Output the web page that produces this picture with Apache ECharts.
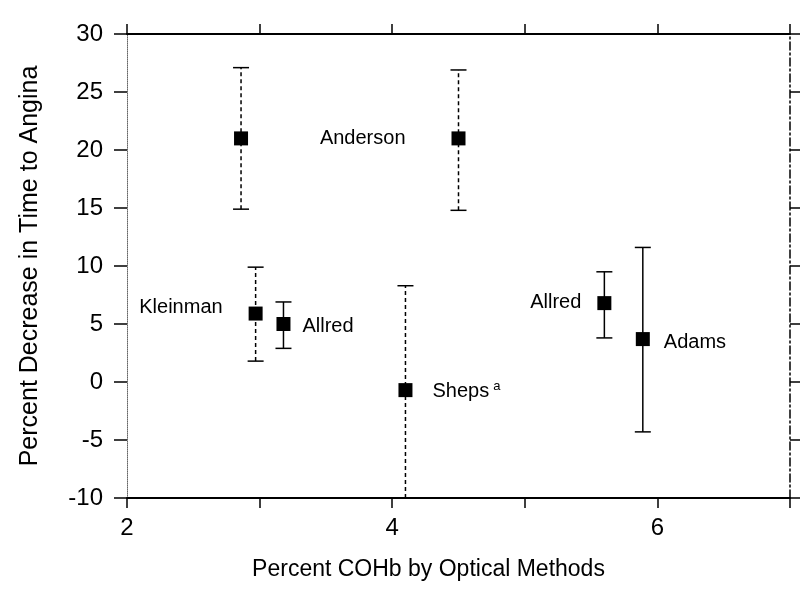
<!DOCTYPE html>
<html>
<head>
<meta charset="utf-8">
<script src="https://cdn.jsdelivr.net/npm/echarts@6/dist/echarts.min.js"></script>
<style>
  html, body { margin: 0; padding: 0; background: #fff; }
  #chart { width: 804px; height: 594px; }
</style>
</head>
<body>
<div id="chart"></div>
<script>
// ---- data ----
var studies   = ['', 'Anderson', 'Kleinman', 'Allred', 'Sheps', 'Allred', 'Adams'];
var cohb      = [2.86, 4.50, 2.97, 3.18, 4.10, 5.60, 5.89];
var decrease  = [21.0, 21.0, 5.9, 5.0, -0.7, 6.8, 3.7];
var lowerCI   = [14.9, 14.8, 1.8, 2.9, -10.0, 3.8, -4.3];
var upperCI   = [27.1, 26.9, 9.9, 6.9, 8.3, 9.5, 11.6];
var notes     = ['', '', '', '', 'a', '', ''];
var xTickLabels = [2, 4, 6];
var yTickLabels = [-10, -5, 0, 5, 10, 15, 20, 25, 30];

// ---- styles (kept apart from the data) ----
var labelSide = ['left', 'left', 'left', 'right', 'right', 'left', 'right'];
var labelDist = [46, 46, 26, 12, 20, 16, 14];
var labelDy   = [0, 0, -6, 2, 1, -1, 3];
var barDashed = [true, true, true, false, true, false, false];

var FONT = '"Liberation Sans", Arial, Helvetica, sans-serif';

var scatterData = cohb.map(function (x, i) {
  var txt = studies[i];
  var fmt = notes[i] ? '{n|' + txt + '}{s|' + notes[i] + '}' : '{n|' + txt + '}';
  return {
    value: [x, decrease[i]],
    label: {
      show: !!txt,
      position: labelSide[i],
      distance: labelDist[i],
      offset: [0, labelDy[i]],
      formatter: fmt,
      color: '#000',
      opacity: 1,
      rich: {
        n: { fontSize: 20, fontFamily: FONT, color: '#000' },
        s: { fontSize: 13, fontFamily: FONT, color: '#000', padding: [0, 0, 10, 4] }
      }
    }
  };
});

var errData = cohb.map(function (x, i) { return [x, lowerCI[i], upperCI[i], i]; });

var chart = echarts.init(document.getElementById('chart'), null, { renderer: 'canvas' });
chart.setOption({
  backgroundColor: '#fff',
  animation: false,
  grid: { left: 127, right: 14, top: 34, bottom: 96, containLabel: false },
  xAxis: [{
    type: 'value', min: 2, max: 7, interval: 1, position: 'bottom',
    name: 'Percent COHb by Optical Methods', nameLocation: 'middle', nameGap: 60,
    nameTextStyle: { fontSize: 23, fontFamily: FONT, color: '#000', padding: [0, 60, 0, 0] },
    axisLine: { show: true, onZero: false, lineStyle: { color: '#000', width: 2 } },
    axisTick: { show: true, inside: false, length: 10, lineStyle: { color: '#000', width: 1.5 } },
    axisLabel: {
      margin: 18, fontSize: 24, fontFamily: FONT, color: '#000',
      formatter: function (v) { return xTickLabels.indexOf(v) >= 0 ? String(v) : ''; }
    },
    splitLine: { show: false }
  }, {
    type: 'value', min: 2, max: 7, interval: 1, position: 'top',
    axisLine: { show: true, onZero: false, lineStyle: { color: '#000', width: 2 } },
    axisTick: { show: true, inside: false, length: 10, lineStyle: { color: '#000', width: 1.5 } },
    axisLabel: { show: false },
    splitLine: { show: false }
  }],
  yAxis: [{
    type: 'value', min: -10, max: 30, interval: 5, position: 'left',
    name: 'Percent Decrease in Time to Angina', nameLocation: 'middle', nameGap: 84, nameRotate: 90,
    nameTextStyle: { fontSize: 25, fontFamily: FONT, color: '#000' },
    axisLine: { show: true, onZero: false, lineStyle: { color: '#666', width: 1, type: 'dotted' } },
    axisTick: { show: true, inside: false, length: 13, lineStyle: { color: '#000', width: 1.5 } },
    axisLabel: {
      margin: 24, fontSize: 24, fontFamily: FONT, color: '#000',
      formatter: function (v) { return yTickLabels.indexOf(v) >= 0 ? String(v) : ''; }
    },
    splitLine: { show: false }
  }, {
    type: 'value', min: -10, max: 30, interval: 5, position: 'right',
    axisLine: { show: true, onZero: false, lineStyle: { color: '#000', width: 1.5, type: [8, 3, 2, 3] } },
    axisTick: { show: true, inside: false, length: 10, lineStyle: { color: '#000', width: 1.5 } },
    axisLabel: { show: false },
    splitLine: { show: false }
  }],
  series: [{
    type: 'custom',
    xAxisIndex: 0, yAxisIndex: 0,
    data: errData,
    z: 2,
    renderItem: function (params, api) {
      var x = api.value(0), lo = api.value(1), hi = api.value(2), i = api.value(3);
      var pLo = api.coord([x, lo]);
      var pHi = api.coord([x, hi]);
      var cap = 8;
      var dash = barDashed[i] ? [4, 3] : null;
      var st = { stroke: '#000', lineWidth: 1.5, lineDash: dash };
      var capSt = { stroke: '#000', lineWidth: 1.5 };
      return {
        type: 'group',
        children: [
          { type: 'line', shape: { x1: pLo[0], y1: pLo[1], x2: pHi[0], y2: pHi[1] }, style: st },
          { type: 'line', shape: { x1: pHi[0] - cap, y1: pHi[1], x2: pHi[0] + cap, y2: pHi[1] }, style: capSt },
          { type: 'line', shape: { x1: pLo[0] - cap, y1: pLo[1], x2: pLo[0] + cap, y2: pLo[1] }, style: capSt }
        ]
      };
    }
  }, {
    type: 'scatter',
    xAxisIndex: 0, yAxisIndex: 0,
    symbol: 'rect', symbolSize: 14,
    itemStyle: { color: '#000', opacity: 1 },
    z: 5,
    data: scatterData
  }]
});
</script>
</body>
</html>
